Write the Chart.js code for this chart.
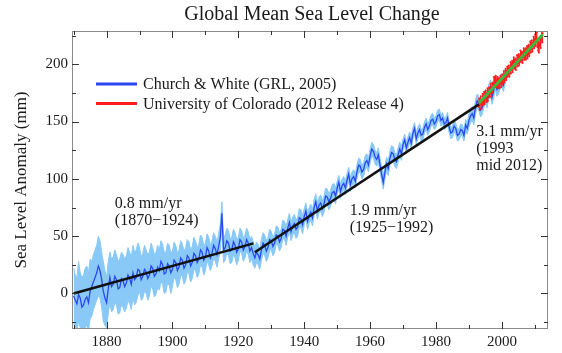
<!DOCTYPE html>
<html>
<head>
<meta charset="utf-8">
<script src="https://cdn.jsdelivr.net/npm/chart.js@4"></script>
<style>
  body { margin: 0; background: #fff; }
  #chart { display: block; }
</style>
</head>
<body>
<canvas id="chart" width="562" height="353"></canvas>
<script>
// Church & White (mm), every half year from 1870.0 to 2001.0
const cwStart = 1870;
const cwStep = 0.5;
const cwValues = [
  -2, -6, -9, -1, -4, -12, -10, -5, -3, -8, 2, 6, 10, 14, 18, 24, 20, 12, 2, -4,
  -8, 4, 14, 6, 8, 15, 12, 4, 5, 13, 11, 6, 9, 16, 13, 8, 18, 12, 14, 21,
  20, 12, 15, 21, 19, 13, 16, 24, 22, 15, 17, 23, 20, 28, 25, 17, 18, 26, 24, 18,
  21, 29, 27, 20, 23, 31, 29, 22, 25, 33, 31, 24, 27, 35, 33, 27, 30, 38, 36, 29,
  32, 40, 37, 31, 35, 42, 39, 34, 41, 48, 70, 38, 40, 46, 44, 37, 38, 45, 42, 36,
  39, 47, 45, 38, 41, 47, 44, 37, 40, 35, 31, 36, 34, 30, 38, 44, 42, 37, 40, 47,
  46, 41, 44, 51, 50, 45, 48, 56, 55, 50, 57, 62, 54, 59, 61, 56, 58, 66, 65, 60,
  67, 72, 63, 68, 71, 66, 75, 80, 72, 77, 79, 74, 78, 85, 84, 80, 83, 88, 89, 85,
  92, 97, 89, 94, 96, 92, 99, 104, 95, 100, 102, 98, 106, 112, 111, 106, 108, 114, 116, 112,
  120, 126, 124, 119, 117, 121, 112, 104, 97, 106, 113, 109, 118, 123, 122, 117, 115, 121, 126, 122,
  130, 134, 127, 132, 136, 131, 140, 144, 135, 140, 143, 138, 139, 145, 148, 143, 146, 151, 152, 148,
  150, 155, 156, 151, 153, 148, 149, 153, 145, 140, 141, 146, 144, 138, 139, 143, 142, 138, 147, 144,
  151, 155, 157, 153, 163, 168, 166, 160, 162, 168, 172, 168, 176, 180, 171, 177, 184, 178, 180, 185,
  186, 182, 190
];
// uncertainty band edges (mm), same half-year steps
const cwUpper = [
  22, 16, 14, 28, 18, 14, 16, 22, 24, 18, 30, 28, 34, 38, 42, 50, 46, 36, 28, 20,
  14, 28, 36, 30, 32, 38, 34, 28, 30, 36, 34, 30, 33, 40, 36, 32, 42, 36, 38, 44,
  40, 32, 35, 42, 38, 34, 36, 44, 40, 34, 36, 42, 38, 46, 43, 36, 36, 44, 42, 36,
  37, 45, 42, 35, 38, 46, 43, 37, 40, 47, 45, 38, 41, 49, 46, 40, 43, 51, 49, 42,
  44, 52, 49, 42, 46, 53, 50, 45, 52, 60, 80, 49, 51, 57, 55, 48, 49, 56, 53, 47,
  49, 57, 55, 48, 51, 57, 54, 47, 50, 45, 40, 45, 43, 39, 47, 53, 51, 46, 49, 56,
  54, 49, 52, 59, 58, 53, 56, 64, 63, 58, 65, 70, 62, 67, 69, 64, 66, 74, 73, 68,
  74, 79, 70, 75, 78, 73, 82, 87, 79, 84, 86, 81, 85, 92, 91, 87, 90, 95, 96, 92,
  98, 103, 95, 100, 102, 98, 105, 110, 101, 106, 108, 104, 112, 118, 117, 112, 114, 120, 122, 118,
  126, 132, 130, 125, 123, 127, 118, 110, 103, 112, 119, 115, 124, 129, 128, 123, 121, 127, 132, 128,
  135, 139, 132, 137, 141, 136, 145, 149, 140, 145, 148, 143, 144, 150, 153, 148, 151, 156, 157, 153,
  155, 160, 161, 156, 158, 153, 154, 158, 150, 145, 146, 151, 149, 143, 144, 148, 147, 143, 152, 149,
  157, 161, 163, 159, 169, 174, 172, 166, 168, 174, 178, 174, 182, 186, 177, 183, 190, 184, 186, 191,
  192, 188, 196
];
const cwLower = [
  -26, -30, -33, -24, -30, -36, -34, -30, -28, -33, -22, -20, -14, -10, -6, -2, -4, -12, -24, -28,
  -30, -18, -8, -16, -14, -8, -10, -18, -17, -10, -12, -16, -13, -6, -9, -14, -4, -10, -8, -2,
  2, -6, -4, 2, 0, -6, -2, 6, 4, -3, -1, 5, 3, 10, 8, 0, 1, 9, 7, 0,
  6, 14, 12, 5, 8, 16, 15, 8, 11, 19, 17, 10, 13, 21, 20, 14, 17, 25, 23, 16,
  20, 28, 25, 20, 24, 31, 28, 23, 30, 37, 60, 27, 29, 35, 33, 26, 27, 34, 31, 25,
  29, 37, 35, 28, 31, 37, 34, 27, 30, 25, 22, 27, 25, 21, 29, 35, 33, 28, 31, 38,
  38, 33, 36, 43, 42, 37, 40, 48, 47, 42, 49, 54, 46, 51, 53, 48, 50, 58, 57, 52,
  60, 65, 56, 61, 64, 59, 68, 73, 65, 70, 72, 67, 71, 78, 77, 73, 76, 81, 82, 78,
  86, 91, 83, 88, 90, 86, 93, 98, 89, 94, 96, 92, 100, 106, 105, 100, 102, 108, 110, 106,
  114, 120, 118, 113, 111, 115, 106, 98, 91, 100, 107, 103, 112, 117, 116, 111, 109, 115, 120, 116,
  125, 129, 122, 127, 131, 126, 135, 139, 130, 135, 138, 133, 134, 140, 143, 138, 141, 146, 147, 143,
  145, 150, 151, 146, 148, 143, 144, 148, 140, 135, 136, 141, 139, 133, 134, 138, 137, 133, 142, 139,
  145, 149, 151, 147, 157, 162, 160, 154, 156, 162, 166, 162, 170, 174, 165, 171, 178, 172, 174, 179,
  180, 176, 184
];

// University of Colorado altimetry (mm), every 1/8 year from 1993.0
const ucStart = 1993;
const ucStep = 0.125;
const ucValues = [
  163, 170, 160, 168, 165, 172, 161, 169,
  166, 174, 164, 171, 168, 176, 165, 173,
  170, 177, 167, 175, 172, 179, 168, 176,
  172, 180, 171, 178, 175, 183, 172, 180,
  176, 184, 175, 183, 181, 189, 180, 188,
  182, 190, 180, 187, 183, 189, 179, 186,
  181, 188, 179, 186, 183, 190, 180, 188,
  184, 191, 182, 190, 187, 194, 184, 192,
  188, 196, 186, 194, 191, 198, 189, 197,
  191, 199, 189, 197, 194, 202, 192, 200,
  195, 203, 193, 201, 198, 206, 196, 204,
  197, 205, 195, 203, 200, 208, 198, 206,
  201, 209, 199, 207, 204, 212, 202, 210,
  203, 211, 201, 209, 206, 214, 204, 212,
  206, 214, 204, 212, 208, 216, 205, 213,
  209, 217, 207, 215, 212, 220, 210, 218,
  213, 221, 211, 219, 216, 224, 214, 222,
  218, 226, 216, 224, 220, 228, 215, 222,
  212, 220, 210, 218, 216, 224, 214, 222,
  221, 229, 219, 227
];

// fitted trends: [start year, end year] and [start mm, end mm]
const trend1Years = [1870, 1924.6];
const trend1Values = [0, 43.7];
const trend2Years = [1925, 1993];
const trend2Values = [36, 165];
const trend3Years = [1993, 2012.4];
const trend3Values = [166, 226];

const xTicks = [1880, 1900, 1920, 1940, 1960, 1980, 2000];
const xMinorTicks = [1870, 1890, 1910, 1930, 1950, 1970, 1990, 2010];
const yTicks = [0, 50, 100, 150, 200];
const yMinorTicks = [-25, 25, 75, 125, 175, 225];

const titleText = 'Global Mean Sea Level Change';
const yTitle = 'Sea Level Anomaly (mm)';
const legendLabels = ['Church & White (GRL, 2005)', 'University of Colorado (2012 Release 4)'];
const notes = [
  { year: 1882.5, mm: 78.5, lines: ['0.8 mm/yr', '(1870\u22121924)'] },
  { year: 1953.8, mm: 72, lines: ['1.9 mm/yr', '(1925\u22121992)'] },
  { year: 1992.2, mm: 141, lines: ['3.1 mm/yr', '(1993', 'mid 2012)'] }
];

const serif = '"Liberation Serif", "Times New Roman", serif';
const textColor = '#1a1a1a';
const darkBlue = '#2a48f0';
const lightBlue = '#88c9f7';
const red = '#ff1e1e';
const green = '#3cb83c';

const toPts = (start, step, vals) => vals.map((v, i) => ({ x: start + i * step, y: v }));
const pair = (xs, ys) => xs.map((x, i) => ({ x: x, y: ys[i] }));

const overlay = {
  id: 'overlay',
  afterDraw(chart) {
    const { ctx, chartArea: a, scales: { x, y } } = chart;
    ctx.save();

    // frame
    ctx.strokeStyle = '#8a8a8a';
    ctx.lineWidth = 1;
    ctx.strokeRect(a.left + 0.5, a.top + 0.5, a.right - a.left - 1, a.bottom - a.top - 1);

    // inward ticks on all four sides
    ctx.strokeStyle = '#333';
    const tickX = (v, len) => {
      const px = Math.round(x.getPixelForValue(v)) + 0.5;
      ctx.beginPath();
      ctx.moveTo(px, a.bottom); ctx.lineTo(px, a.bottom - len);
      ctx.moveTo(px, a.top); ctx.lineTo(px, a.top + len);
      ctx.stroke();
    };
    const tickY = (v, len) => {
      const py = Math.round(y.getPixelForValue(v)) + 0.5;
      ctx.beginPath();
      ctx.moveTo(a.left, py); ctx.lineTo(a.left + len, py);
      ctx.moveTo(a.right, py); ctx.lineTo(a.right - len, py);
      ctx.stroke();
    };
    xTicks.forEach(v => tickX(v, 7));
    xMinorTicks.forEach(v => tickX(v, 4));
    yTicks.forEach(v => tickY(v, 7));
    yMinorTicks.forEach(v => tickY(v, 4));

    // title
    ctx.fillStyle = textColor;
    ctx.font = '20px ' + serif;
    ctx.textAlign = 'center';
    ctx.textBaseline = 'middle';
    ctx.fillText(titleText, (a.left + a.right) / 2 + 2, 15);

    // legend
    ctx.font = '16px ' + serif;
    ctx.textAlign = 'left';
    [darkBlue, red].forEach((c, i) => {
      const ly = 84 + i * 19.5;
      ctx.strokeStyle = c;
      ctx.lineWidth = 3;
      ctx.beginPath();
      ctx.moveTo(a.left + 24, ly); ctx.lineTo(a.left + 65, ly);
      ctx.stroke();
      ctx.fillText(legendLabels[i], a.left + 71, ly + 1);
    });

    // rate notes
    notes.forEach(n => {
      const nx = x.getPixelForValue(n.year);
      const ny = y.getPixelForValue(n.mm);
      n.lines.forEach((t, i) => ctx.fillText(t, nx, ny + i * 17));
    });

    ctx.restore();
  }
};

new Chart(document.getElementById('chart'), {
  type: 'line',
  data: {
    datasets: [
      { data: toPts(cwStart, cwStep, cwUpper), fill: '+1', backgroundColor: lightBlue, borderColor: lightBlue, borderWidth: 1, pointRadius: 0, order: 7 },
      { data: toPts(cwStart, cwStep, cwLower), fill: false, borderColor: lightBlue, borderWidth: 1, pointRadius: 0, order: 6 },
      { data: toPts(cwStart, cwStep, cwValues), borderColor: darkBlue, borderWidth: 1.3, pointRadius: 0, order: 5 },
      { data: toPts(ucStart, ucStep, ucValues), borderColor: red, borderWidth: 1, pointRadius: 1, pointBackgroundColor: red, pointBorderWidth: 0, order: 4 },
      { data: pair(trend1Years, trend1Values), borderColor: '#111', borderWidth: 2.5, pointRadius: 0, order: 3 },
      { data: pair(trend2Years, trend2Values), borderColor: '#111', borderWidth: 2.5, pointRadius: 0, order: 2 },
      { data: pair(trend3Years, trend3Values), borderColor: green, borderWidth: 3, pointRadius: 0, order: 1 }
    ]
  },
  options: {
    responsive: false,
    animation: false,
    devicePixelRatio: 1,
    layout: { padding: { top: 31, right: 14, left: 0, bottom: 0 } },
    plugins: { legend: { display: false }, tooltip: { enabled: false } },
    scales: {
      x: {
        type: 'linear',
        min: 1869.5,
        max: 2014,
        afterBuildTicks: s => { s.ticks = xTicks.map(v => ({ value: v })); },
        afterFit: s => { s.height = 24; },
        grid: { display: false, drawTicks: false },
        border: { display: false },
        ticks: { color: textColor, font: { family: serif, size: 15 }, padding: 4, maxRotation: 0, callback: v => String(v) }
      },
      y: {
        min: -31,
        max: 229,
        afterBuildTicks: s => { s.ticks = yTicks.map(v => ({ value: v })); },
        afterFit: s => { s.width = 72; },
        grid: { display: false, drawTicks: false },
        border: { display: false },
        ticks: { color: textColor, font: { family: serif, size: 15 }, padding: 4 },
        title: { display: true, text: yTitle, color: textColor, font: { family: serif, size: 17 }, padding: { top: 11, bottom: 0 } }
      }
    }
  },
  plugins: [overlay]
});
</script>
</body>
</html>
